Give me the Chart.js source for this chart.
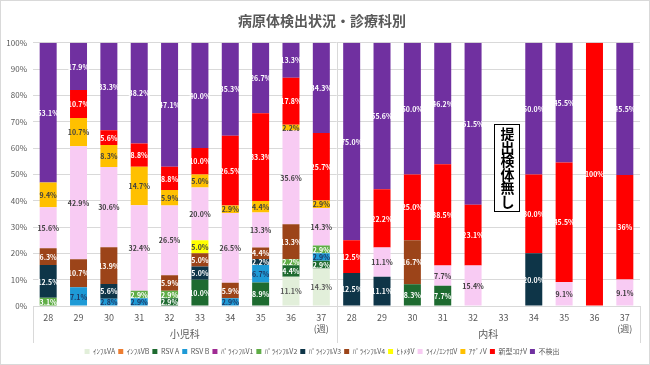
<!DOCTYPE html>
<html>
<head>
<meta charset="utf-8">
<script src="https://cdn.jsdelivr.net/npm/chart.js@4.4.0/dist/chart.umd.min.js"></script>
<style>
  html, body { margin: 0; background: #fff; }
  #wrap { width: 650px; height: 365px; }
</style>
</head>
<body>
<div id="wrap"><canvas id="chart"></canvas></div>
<script>
// weeks for 小児科 then 内科
const weeks = ['28', '29', '30', '31', '32', '33', '34', '35', '36', '37',
               '28', '29', '30', '31', '32', '33', '34', '35', '36', '37'];
const groups = ['小児科', '内科'];

// % of specimens per week (as printed on the bars)
const infA   = [0, 0, 0, 0, 0, 0, 0, 0, 11.1, 14.3,   0, 0, 0, 0, 0, 0, 0, 0, 0, 0];
const infB   = [0, 0, 0, 0, 0, 0, 0, 0, 0, 0,          0, 0, 0, 0, 0, 0, 0, 0, 0, 0];
const rsvA   = [0, 0, 0, 0, 2.9, 10.0, 0, 8.9, 4.4, 2.9, 0, 0, 8.3, 7.7, 0, 0, 0, 0, 0, 0];
const rsvB   = [0, 7.1, 2.8, 2.9, 0, 0, 2.9, 6.7, 0, 2.9, 0, 0, 0, 0, 0, 0, 0, 0, 0, 0];
const para1  = [0, 0, 0, 0, 0, 0, 0, 0, 0, 0,          0, 0, 0, 0, 0, 0, 0, 0, 0, 0];
const para2  = [3.1, 0, 0, 2.9, 2.9, 0, 0, 0, 2.2, 2.9, 0, 0, 0, 0, 0, 0, 0, 0, 0, 0];
const para3  = [12.5, 0, 5.6, 0, 0, 5.0, 0, 2.2, 0, 0,  12.5, 11.1, 0, 0, 0, 0, 20.0, 0, 0, 0];
const para4  = [6.3, 10.7, 13.9, 0, 5.9, 5.0, 5.9, 4.4, 13.3, 0, 0, 0, 16.7, 0, 0, 0, 0, 0, 0, 0];
const hmpv   = [0, 0, 0, 0, 0, 5.0, 0, 0, 0, 0,        0, 0, 0, 0, 0, 0, 0, 0, 0, 0];
const rhino  = [15.6, 42.9, 30.6, 32.4, 26.5, 20.0, 26.5, 13.3, 35.6, 14.3, 0, 11.1, 0, 7.7, 15.4, 0, 0, 9.1, 0, 9.1];
const adeno  = [9.4, 10.7, 8.3, 14.7, 5.9, 5.0, 2.9, 4.4, 2.2, 2.9, 0, 0, 0, 0, 0, 0, 0, 0, 0, 0];
const covid  = [0, 10.7, 5.6, 8.8, 8.8, 10.0, 26.5, 33.3, 17.8, 25.7, 12.5, 22.2, 25.0, 38.5, 23.1, 0, 30.0, 45.5, 100, 36];
const none   = [53.1, 17.9, 33.3, 38.2, 47.1, 40.0, 35.3, 26.7, 13.3, 34.3, 75.0, 55.6, 50.0, 46.2, 61.5, 0, 50.0, 45.5, 0, 45.5];

const series = [
  { label: 'ｲﾝﾌﾙVA',     raw: infA,  color: '#E2EFDA', text: '#595959' },
  { label: 'ｲﾝﾌﾙVB',     raw: infB,  color: '#ED7D31', text: '#ffffff' },
  { label: 'RSV A',      raw: rsvA,  color: '#1E6B30', text: '#ffffff' },
  { label: 'RSV B',      raw: rsvB,  color: '#1E9AD6', text: '#1F3864' },
  { label: 'ﾊﾟﾗｲﾝﾌﾙV1', raw: para1, color: '#A02B93', text: '#ffffff' },
  { label: 'ﾊﾟﾗｲﾝﾌﾙV2', raw: para2, color: '#5FAD46', text: '#ffffff' },
  { label: 'ﾊﾟﾗｲﾝﾌﾙV3', raw: para3, color: '#0E3548', text: '#ffffff' },
  { label: 'ﾊﾟﾗｲﾝﾌﾙV4', raw: para4, color: '#9C4419', text: '#ffffff' },
  { label: 'ﾋﾄﾒﾀV',      raw: hmpv,  color: '#FFFF00', text: '#404040' },
  { label: 'ﾗｲﾉ/ｴﾝﾃﾛV',  raw: rhino, color: '#F8CBF3', text: '#404040' },
  { label: 'ｱﾃﾞﾉV',      raw: adeno, color: '#FFC000', text: '#404040' },
  { label: '新型ｺﾛﾅV',   raw: covid, color: '#FF0000', text: '#ffffff' },
  { label: '不検出',      raw: none,  color: '#7030A0', text: '#ffffff' }
];

// 100% stacked: each week is scaled to its own total
const totals = weeks.map((w, i) => series.reduce((s, d) => s + d.raw[i], 0));

function fmt(v) {
  // the source printed these two without a decimal
  if (v === 100 || v === 36) return v + '%';
  return v.toFixed(1) + '%';
}

const FONT = '"Noto Sans CJK JP", "Noto Sans", sans-serif';
Chart.defaults.font.family = FONT;

const segLabels = {
  id: 'segLabels',
  afterDatasetsDraw(chart) {
    const ctx = chart.ctx;
    ctx.save();
    ctx.font = 'bold 7px ' + FONT;
    ctx.textAlign = 'center';
    ctx.textBaseline = 'middle';
    chart.data.datasets.forEach((ds, di) => {
      const meta = chart.getDatasetMeta(di);
      if (!chart.isDatasetVisible(di)) return;
      meta.data.forEach((bar, i) => {
        const v = ds.raw[i];
        if (!v) return;
        const p = bar.getProps(['x', 'y', 'base'], true);
        ctx.fillStyle = ds.textColor;
        ctx.fillText(fmt(v), p.x, (p.y + p.base) / 2 + 0.5);
      });
    });
    ctx.restore();
  }
};

const groupAxis = {
  id: 'groupAxis',
  afterDraw(chart) {
    const ctx = chart.ctx;
    const x = chart.scales.x, y = chart.scales.y;
    const half = (x.getPixelForValue(1) - x.getPixelForValue(0)) / 2;
    const bottom = chart.chartArea.bottom;
    ctx.save();
    ctx.strokeStyle = '#d9d9d9';
    ctx.lineWidth = 1;
    // group separators
    [0, 10, 20].forEach(k => {
      const px = Math.round(x.getPixelForValue(k) - half) + 0.5;
      ctx.beginPath();
      ctx.moveTo(px, k === 10 ? chart.chartArea.top : bottom);
      ctx.lineTo(px, bottom + 37);
      ctx.stroke();
    });
    ctx.fillStyle = '#595959';
    ctx.font = '10px ' + FONT;
    ctx.textAlign = 'center';
    ctx.textBaseline = 'middle';
    groups.forEach((g, k) => {
      const cx = (x.getPixelForValue(k * 10) + x.getPixelForValue(k * 10 + 9)) / 2;
      ctx.fillText(g, cx, bottom + 28);
    });

    // 内科 week 33: no specimen box
    const bx = x.getPixelForValue(15) + 3;
    const top = y.getPixelForValue(69), bot = y.getPixelForValue(36);
    ctx.fillStyle = '#fff';
    ctx.fillRect(bx - 12, top, 25, bot - top);
    ctx.strokeStyle = '#000';
    ctx.strokeRect(Math.round(bx - 12) + 0.5, Math.round(top) + 0.5, 25, Math.round(bot - top));
    ctx.fillStyle = '#000';
    ctx.font = 'bold 14px ' + FONT;
    const chars = '提出検体無し'.split('');
    const step = (bot - top - 6) / chars.length;
    chars.forEach((c, i) => ctx.fillText(c, bx + 1, top + 3 + step * (i + 0.5)));

    // outer frame
    ctx.strokeStyle = '#d9d9d9';
    ctx.strokeRect(0.5, 0.5, chart.width - 1, chart.height - 1);
    ctx.restore();
  }
};

new Chart(document.getElementById('chart'), {
  type: 'bar',
  data: {
    labels: weeks.map((w, i) => (i % 10 === 9 ? [w, '(週)'] : w)),
    datasets: series.map(s => ({
      label: s.label,
      raw: s.raw,
      textColor: s.text,
      data: s.raw.map((v, i) => (totals[i] ? v / totals[i] * 100 : 0)),
      backgroundColor: s.color,
      borderWidth: 0,
      barPercentage: 0.56,
      categoryPercentage: 1
    }))
  },
  options: {
    responsive: true,
    maintainAspectRatio: false,
    animation: false,
    layout: { padding: { left: 4, right: 10, top: 7, bottom: 0 } },
    scales: {
      x: {
        stacked: true,
        grid: { display: false, drawTicks: false },
        border: { color: '#d9d9d9' },
        ticks: { color: '#595959', font: { size: 9 }, padding: 6, maxRotation: 0, autoSkip: false },
        afterFit: s => { s.height = 39; }
      },
      y: {
        stacked: true,
        min: 0,
        max: 100,
        grid: { color: '#d9d9d9', drawTicks: false },
        border: { display: false },
        ticks: { stepSize: 10, color: '#595959', font: { size: 8 }, padding: 6, callback: v => v + '%' },
        afterFit: s => { s.width = 29; }
      }
    },
    plugins: {
      title: {
        display: true,
        text: '病原体検出状況・診療科別',
        color: '#595959',
        font: { size: 14, weight: 'bold' },
        padding: { top: 5, bottom: 14 }
      },
      legend: {
        position: 'bottom',
        labels: { color: '#595959', font: { size: 7 }, boxWidth: 5, boxHeight: 5, padding: 3 }
      },
      tooltip: { enabled: false }
    }
  },
  plugins: [segLabels, groupAxis]
});
</script>
</body>
</html>
